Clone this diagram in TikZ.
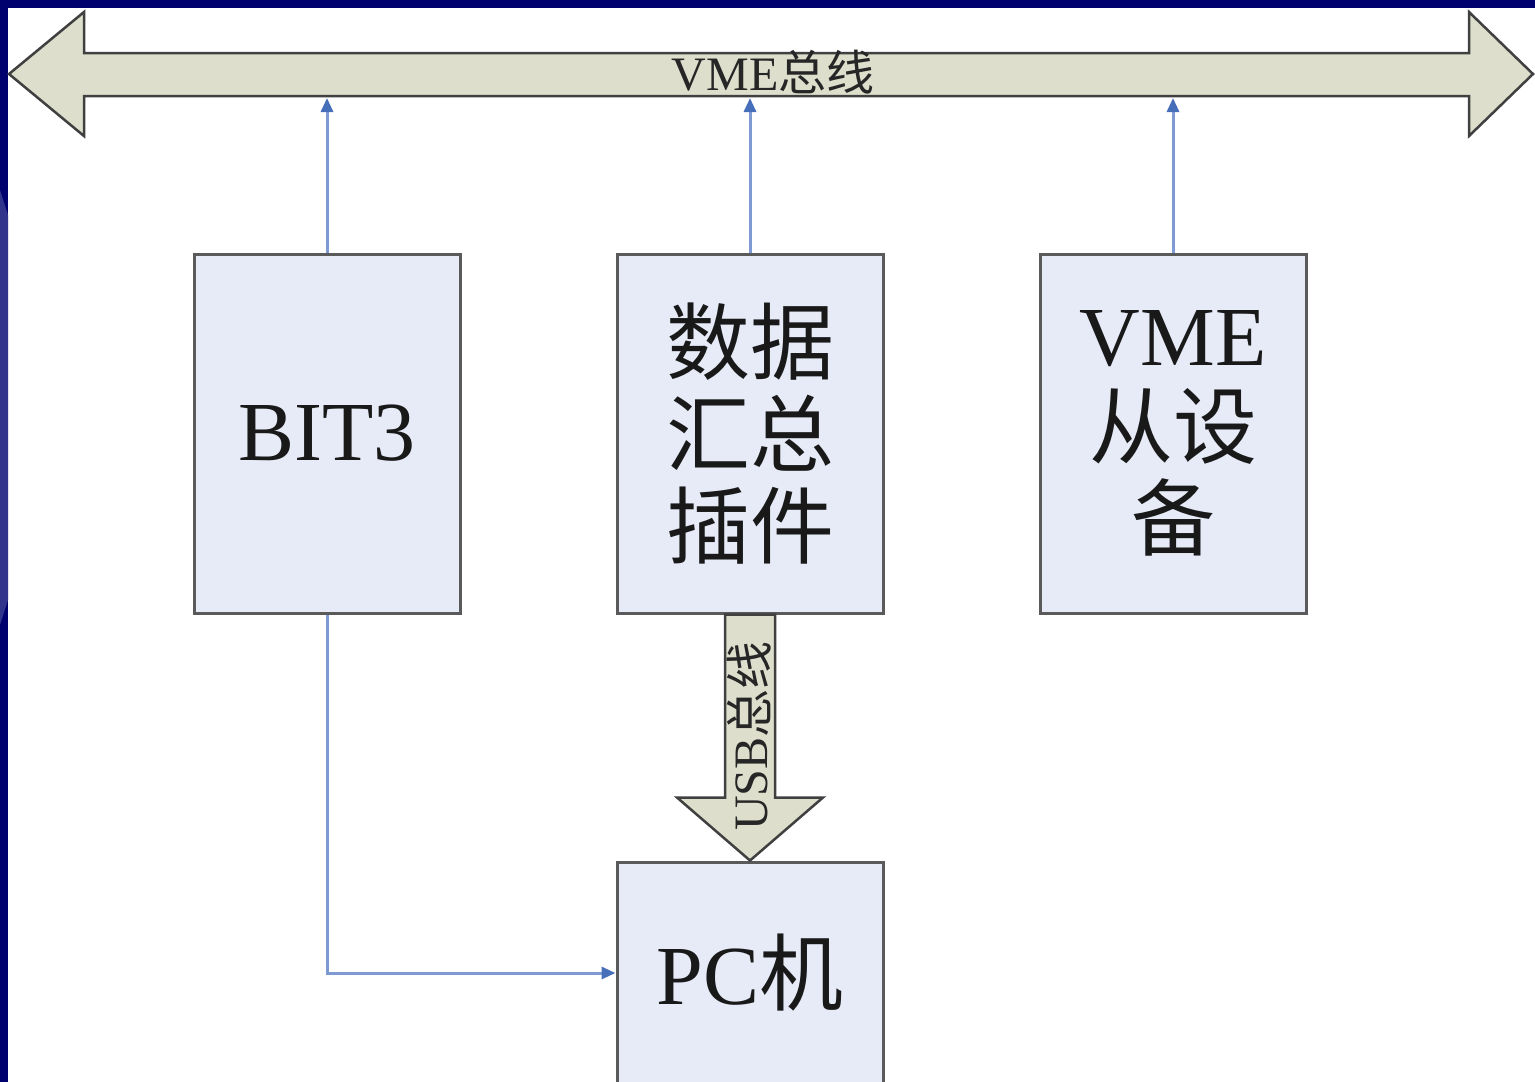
\documentclass[tikz,border=0pt]{standalone}
\usepackage{fontspec}
\setmainfont{Liberation Serif}
\newfontfamily\cjk{Noto Sans CJK SC}
\usetikzlibrary{arrows.meta,calc}

\definecolor{slidenavy}{RGB}{0,0,110}
\definecolor{slidepatch}{RGB}{50,52,140}
\definecolor{boxfill}{RGB}{230,235,247}
\definecolor{boxline}{RGB}{90,90,90}
\definecolor{busfill}{RGB}{221,223,204}
\definecolor{linkblue}{RGB}{125,155,210}
\definecolor{tipblue}{RGB}{70,110,185}

\tikzset{
  unitbox/.style={draw=boxline, line width=3pt, fill=boxfill,
    minimum width=266pt, inner sep=0pt, align=center, text=black!90},
  bigtext/.style={font=\fontsize{84}{94}\selectfont},
  buspath/.style={draw=black!75, line width=2.5pt, fill=busfill, line join=miter},
  link/.style={draw=linkblue, line width=3pt,
    -{Triangle[length=14pt,width=12pt,color=tipblue]}},
  buslabel/.style={font=\fontsize{48}{52}\selectfont, text=black!85, inner sep=0pt}
}

\begin{document}
\begin{tikzpicture}[x=1pt,y=-1pt]
  \useasboundingbox (0,0) rectangle (1535,1082);
  \clip (0,0) rectangle (1535,1082);

  % slide background
  \fill[white] (0,0) rectangle (1535,1082);
  \fill[slidenavy] (0,0) rectangle (1535,8);
  \fill[slidenavy] (0,0) rectangle (8,1082);
  \fill[slidepatch] (0,190) -- (8,215) -- (8,600) -- (0,625) -- cycle;

  % VME bus: double-headed block arrow
  \draw[buspath] (9,74) -- (84,12) -- (84,53) -- (1469,53) -- (1469,12)
    -- (1533,74) -- (1469,136) -- (1469,96) -- (84,96) -- (84,136) -- cycle;
  \coordinate (busS) at (0,98);
  \node[buslabel] (buslbl) at (773,72) {VME{\cjk 总线}};

  % functional units
  \node[unitbox, bigtext, minimum height=359pt] (bit3) at (327,433.5) {BIT3};
  \node[unitbox, bigtext, minimum height=359pt] (collect) at (750,433.5)
    {{\cjk 数据}\\[-2pt]{\cjk 汇总}\\[-2pt]{\cjk 插件}};
  \node[unitbox, bigtext, minimum height=359pt] (slave) at (1173,433.5)
    {VME\\[-2pt]{\cjk 从设}\\[-2pt]{\cjk 备}};
  \node[unitbox, bigtext, minimum height=222pt] (pc) at (750,973)
    {PC{\cjk 机}};

  % links onto the bus
  \draw[link] (bit3.north) -- (bit3.north |- busS);
  \draw[link] (collect.north) -- (collect.north |- busS);
  \draw[link] (slave.north) -- (slave.north |- busS);

  % BIT3 to PC
  \draw[link] (bit3.south) |- (pc.west);

  % USB bus: block arrow from the collector to the PC
  \coordinate (usbTop) at (collect.south);
  \coordinate (usbTip) at (pc.north);
  \draw[buspath] ($(usbTop)+(-25,0)$) -- ($(usbTop)+(25,0)$)
    -- ($(usbTip)+(25,-63)$) -- ($(usbTip)+(73,-63)$) -- (usbTip)
    -- ($(usbTip)+(-73,-63)$) -- ($(usbTip)+(-25,-63)$) -- cycle;
  \node[buslabel, rotate=90] (usblbl) at (749,736) {USB{\cjk 总线}};
\end{tikzpicture}
\end{document}
